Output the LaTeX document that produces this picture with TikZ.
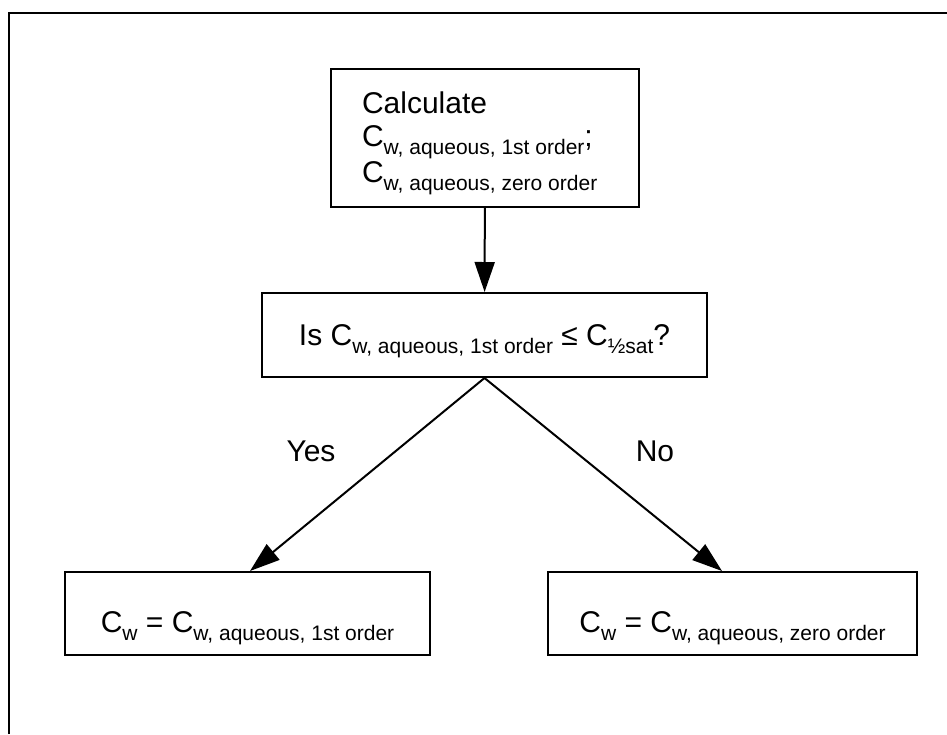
\documentclass[tikz,border=0pt]{standalone}
\usepackage{fontspec}
\setmainfont{Liberation Sans}
\usetikzlibrary{arrows.meta}
\newcommand{\sbs}[1]{\raisebox{-4pt}{\fontsize{10.5}{12}\selectfont\spaceskip=0pt\relax #1}}
\tikzset{box/.style={draw, line width=1pt, inner sep=0pt, font=\fontsize{15}{18.5}\selectfont},
  lbl/.style={font=\fontsize{15}{18}\selectfont},
  >={Triangle[length=15pt,width=10pt]}}

\begin{document}
\begin{tikzpicture}[x=0.5pt,y=0.5pt]
\useasboundingbox (0,0) rectangle (947,-734);
\draw[line width=1.2pt] (9,-734) -- (9,-13) -- (947,-13);

\node[box, minimum width=154pt, minimum height=69pt, text width=123pt, align=left] (1) at (485,-138) {\rule{0pt}{16pt}Calculate\\[-2pt]C\sbs{w, aqueous, 1st order};\\[-0.5pt]C\sbs{w, aqueous, zero order}};
\node[box, minimum width=222.5pt, text height=26pt, text depth=16pt] (2) at (484.5,-335) {Is C\sbs{w, aqueous, 1st order} ≤ C\sbs{½sat}?};
\node[box, minimum width=182.5pt, text height=30pt, text depth=11.5pt] (3) at (247.5,-613.5) {C\sbs{w} = C\sbs{w, aqueous, 1st order}};
\node[box, minimum width=184.5pt, text height=30pt, text depth=11.5pt] (4) at (732.5,-613.5) {C\sbs{w} = C\sbs{w, aqueous, zero order}};

\node[lbl] (5) at (311,-451) {Yes};
\node[lbl] (6) at (655,-451) {No};

\path[draw,line width=1pt,->] (1) -- (2);
\path[draw,line width=1pt,->] (2.south) -- ([xshift=1.25pt]3.north);
\path[draw,line width=1pt,->] (2.south) -- ([xshift=-5.25pt]4.north);
\end{tikzpicture}
\end{document}
